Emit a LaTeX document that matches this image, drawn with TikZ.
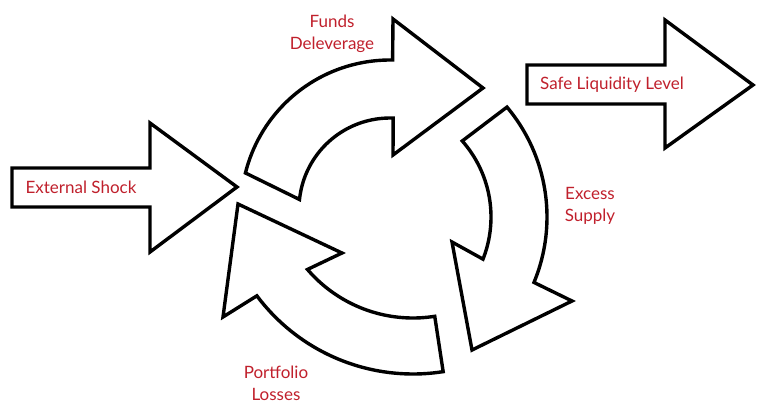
\documentclass[tikz,border=0pt]{standalone}
\usepackage{fontspec}
\setmainfont{Lato}
\definecolor{lblred}{RGB}{192,32,44}
\begin{document}
\begin{tikzpicture}[x=1pt,y=-1pt,
  arrowshape/.style={draw=black,line width=3.4pt,fill=white,line join=miter,miter limit=10},
  lbl/.style={text=lblred,font=\fontsize{17}{22}\selectfont,align=center,inner sep=0pt}]
\useasboundingbox (0,0) rectangle (765,415);

% External shock arrow
\draw[arrowshape] (12,168) -- (150,168) -- (150,123) -- (237,187) -- (150,252) -- (150,207) -- (12,207) -- cycle;
% Safe liquidity arrow
\draw[arrowshape] (527,65) -- (665,65) -- (665,20) -- (753,85) -- (665,148) -- (665,104) -- (527,104) -- cycle;

% Funds deleverage (top curved arrow)
\draw[arrowshape] plot[domain=194:271,samples=40] ({390+149*cos(\x)},{209+149*sin(\x)})
  -- (393,19) -- (483,88) -- (393,155)
  -- plot[domain=272:186,samples=40] ({390+91*cos(\x)},{209+91*sin(\x)}) -- cycle;

% Excess supply (right curved arrow)
\draw[arrowshape] plot[domain=-40:22.5,samples=40] ({376+171*cos(\x)},{217+171*sin(\x)})
  -- (572,301) -- (472,350) -- (452,242)
  -- plot[domain=21.5:-41.4,samples=40] ({376+115*cos(\x)},{217+115*sin(\x)}) -- cycle;

% Portfolio losses (bottom curved arrow)
\draw[arrowshape] plot[domain=81.1:143.2,samples=40] ({413+195*cos(\x)},{179+195*sin(\x)})
  -- (223,317) -- (238,204) -- (342,253)
  -- plot[domain=139.4:81,samples=40] ({413+139*cos(\x)},{179+139*sin(\x)}) -- cycle;

\node[lbl] (shock) at (81,187) {External Shock};
\node[lbl] (safe) at (612,85) {Safe Liquidity Level};
\node[lbl] (funds) at (332,34) {Funds\\Deleverage};
\node[lbl] (excess) at (590,206) {Excess\\Supply};
\node[lbl] (losses) at (276,383) {Portfolio\\Losses};
\end{tikzpicture}
\end{document}
